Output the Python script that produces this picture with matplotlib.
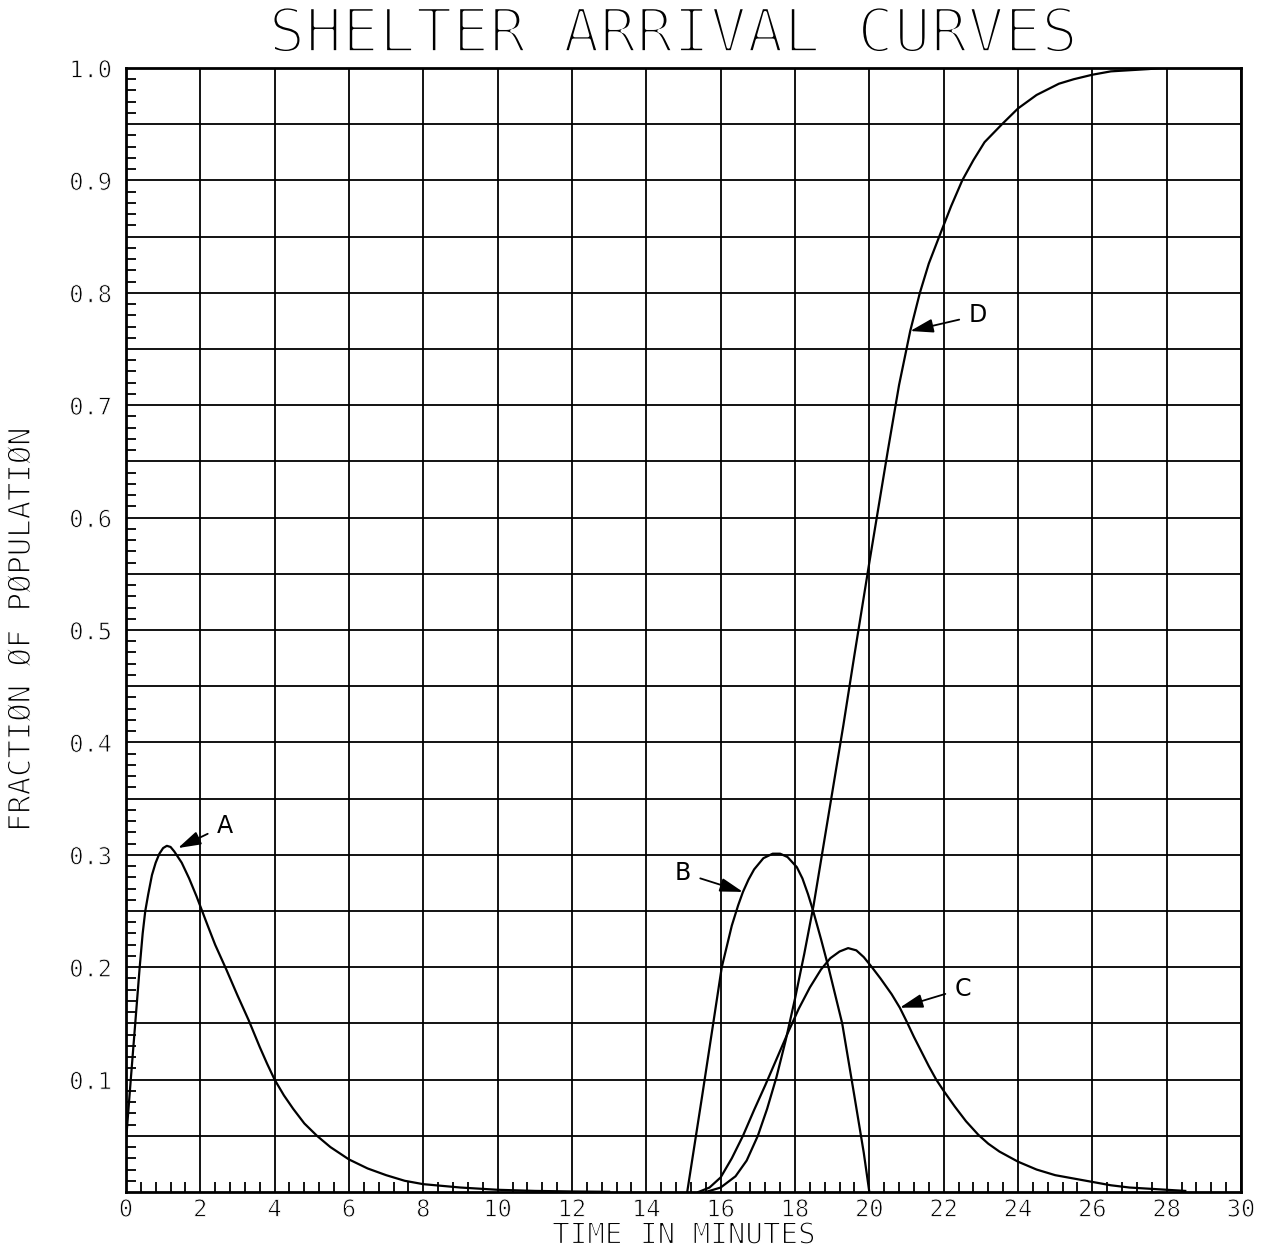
import numpy as np
from matplotlib import pyplot as plt
from matplotlib import patheffects
from matplotlib.ticker import FixedLocator, MultipleLocator

# values (minutes, fraction of population)
a_x = [0.0, 0.13, 0.25, 0.37, 0.45, 0.52, 0.6, 0.7, 0.8, 0.9, 1.0, 1.1, 1.2, 1.3, 1.5, 1.7,
       1.9, 2.05, 2.2, 2.4, 2.7, 3.0, 3.3, 3.6, 3.8, 4.0, 4.25, 4.5, 4.8, 5.14, 5.5, 6.0, 6.5,
       7.0, 7.5, 8.0, 9.0, 10.0, 11.0, 12.0, 13.0]
a_y = [0.045, 0.10, 0.15, 0.20, 0.23, 0.25, 0.265, 0.282, 0.293, 0.301, 0.306, 0.308, 0.307,
       0.303, 0.293, 0.279, 0.263, 0.25, 0.237, 0.22, 0.198, 0.175, 0.153, 0.129, 0.114, 0.10,
       0.086, 0.074, 0.061, 0.05, 0.04, 0.029, 0.021, 0.015, 0.01, 0.007, 0.004, 0.002, 0.001,
       0.0005, 0.0002]

b_x = [15.1, 15.5, 15.8, 16.03, 16.3, 16.47, 16.6, 16.75, 16.9, 17.15, 17.4, 17.6, 17.8,
       18.05, 18.2, 18.35, 18.49, 18.7, 18.9, 19.27, 19.6, 19.85, 20.0]
b_y = [0.0, 0.085, 0.15, 0.20, 0.237, 0.255, 0.267, 0.278, 0.287, 0.297, 0.301, 0.301, 0.298,
       0.289, 0.279, 0.265, 0.25, 0.225, 0.20, 0.15, 0.085, 0.035, 0.0]

c_x = [15.4, 15.7, 16.0, 16.3, 16.6, 16.9, 17.2, 17.5, 17.8, 18.1, 18.4, 18.7, 18.95, 19.2,
       19.43, 19.65, 19.85, 20.07, 20.3, 20.6, 20.82, 21.0, 21.2, 21.4, 21.6, 21.8, 22.0, 22.3,
       22.6, 22.93, 23.2, 23.5, 24.0, 24.5, 25.0, 25.5, 26.0, 26.5, 27.0, 27.5, 28.0, 28.5]
c_y = [0.0, 0.004, 0.013, 0.03, 0.05, 0.073, 0.095, 0.118, 0.141, 0.163, 0.182, 0.198, 0.208,
       0.214, 0.217, 0.215, 0.209, 0.20, 0.19, 0.176, 0.164, 0.152, 0.138, 0.125, 0.112, 0.10,
       0.09, 0.076, 0.063, 0.051, 0.043, 0.036, 0.027, 0.02, 0.015, 0.012, 0.009, 0.006, 0.004,
       0.003, 0.002, 0.001]

d_x = [15.6, 16.0, 16.4, 16.7, 17.0, 17.25, 17.5, 17.75, 18.0, 18.25, 18.5, 18.75, 19.0, 19.3,
       19.6, 20.0, 20.5, 20.8, 21.1, 21.36, 21.6, 21.88, 22.2, 22.5, 22.8, 23.1, 23.57, 24.0,
       24.5, 25.1, 25.5, 26.0, 26.5, 27.0, 27.5, 27.9, 28.6]
d_y = [0.0, 0.004, 0.014, 0.028, 0.05, 0.074, 0.102, 0.135, 0.172, 0.212, 0.255, 0.305, 0.355,
       0.415, 0.478, 0.56, 0.66, 0.718, 0.766, 0.80, 0.826, 0.85, 0.877, 0.90, 0.918, 0.934,
       0.95, 0.964, 0.976, 0.986, 0.99, 0.994, 0.997, 0.998, 0.999, 1.0, 1.0]

# curve labels: (name, arrow tip, text position)
labels = ["A", "B", "C", "D"]
tips = [(1.4, 0.306), (16.6, 0.267), (20.82, 0.164), (21.1, 0.766)]
texts = [(2.66, 0.326), (14.98, 0.284), (22.52, 0.181), (22.92, 0.78)]

plt.rcParams['font.family'] = 'DejaVu Sans Mono'

fig = plt.figure(figsize=(12.67, 12.52), dpi=100)
ax = fig.add_axes([0.0994, 0.0479, 0.8801, 0.8978])

for xs, ys in [(a_x, a_y), (b_x, b_y), (c_x, c_y), (d_x, d_y)]:
    ax.plot(xs, ys, color="black", lw=1.6, zorder=3, solid_joinstyle="round")

for name, tip, pos in zip(labels, tips, texts):
    ax.annotate(name, xy=tip, xytext=pos, fontsize=17, family="DejaVu Sans",
                ha="center", va="center",
                arrowprops=dict(arrowstyle="-|>,head_length=1.0,head_width=0.3",
                                color="black", lw=1.3, mutation_scale=14,
                                shrinkA=5, shrinkB=0))

ax.set_xlim(0, 30)
ax.set_ylim(0, 1.0)

xt = np.arange(0, 31, 2)
ax.set_xticks(xt)
ax.set_xticklabels([str(v) for v in xt])
ax.xaxis.set_minor_locator(MultipleLocator(0.4))

yt = np.round(np.arange(0.05, 1.001, 0.05), 2)
ax.set_yticks(yt)
ax.set_yticklabels(["%.1f" % v if round(v * 100) % 10 == 0 else "" for v in yt])
ax.yaxis.set_minor_locator(FixedLocator(np.round(np.arange(0.01, 1.0, 0.01), 2)))

ax.grid(True, which="major", color="black", lw=1.3)
ax.tick_params(which="major", length=0, labelsize=17)
ax.tick_params(axis="x", which="major", pad=4)
ax.tick_params(axis="y", which="major", pad=10)
ax.tick_params(which="minor", direction="in", length=7, width=1.3, color="black")
for s in ax.spines.values():
    s.set_linewidth(2)

ax.set_xlabel("TIME IN MINUTES", fontsize=21, labelpad=0)
ax.set_ylabel("FRACTIØN ØF PØPULATIØN", fontsize=22, labelpad=24)
title = fig.text(0.531, 0.9585, "SHELTER ARRIVAL CURVES", fontsize=44, ha="center",
                 va="baseline")

# white edge over the black fill thins the strokes, like the pen-plotter lettering
title.set_path_effects([patheffects.Stroke(linewidth=2.6, foreground="white")])
thin = [patheffects.Stroke(linewidth=1.0, foreground="white")]
ax.xaxis.label.set_path_effects(thin)
ax.yaxis.label.set_path_effects(thin)
for t in ax.get_xticklabels() + ax.get_yticklabels():
    t.set_path_effects([patheffects.Stroke(linewidth=0.6, foreground="white")])

plt.savefig("out.png", dpi=100)
